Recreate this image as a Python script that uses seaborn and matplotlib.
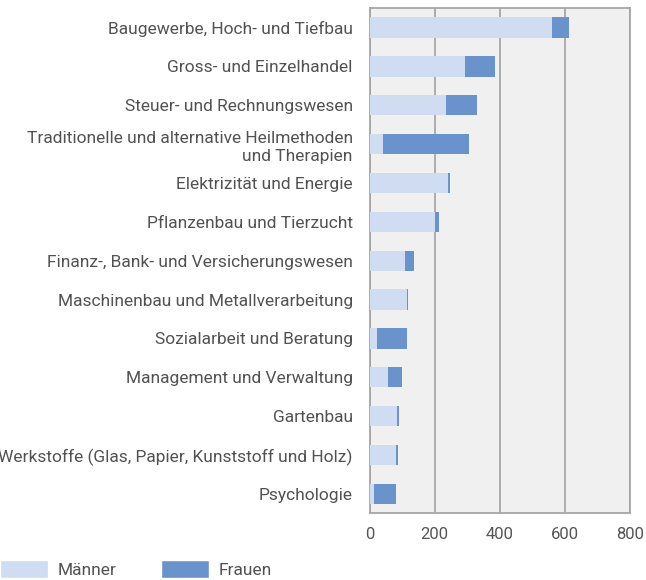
import matplotlib
matplotlib.use("Agg")
import matplotlib.pyplot as plt
import seaborn as sns
import pandas as pd
from matplotlib.patches import Patch
from matplotlib.ticker import MultipleLocator

# Data
categories = [
    "Baugewerbe, Hoch- und Tiefbau",
    "Gross- und Einzelhandel",
    "Steuer- und Rechnungswesen",
    "Traditionelle und alternative Heilmethoden\nund Therapien",
    "Elektrizität und Energie",
    "Pflanzenbau und Tierzucht",
    "Finanz-, Bank- und Versicherungswesen",
    "Maschinenbau und Metallverarbeitung",
    "Sozialarbeit und Beratung",
    "Management und Verwaltung",
    "Gartenbau",
    "Werkstoffe (Glas, Papier, Kunststoff und Holz)",
    "Psychologie",
]
maenner = [560, 292, 234, 40, 242, 200, 108, 115, 22, 56, 85, 81, 15]
frauen = [54, 95, 95, 265, 4, 12, 28, 3, 92, 43, 5, 6, 66]

col_m = "#cfdcf2"
col_f = "#6a93cc"
grid_col = "#a6a6a6"
text_col = "#525252"

df = pd.DataFrame({"Kategorie": categories, "Männer": maenner, "Frauen": frauen})
df["Total"] = df["Männer"] + df["Frauen"]

sns.set_style("white")
plt.rcParams["font.family"] = ["Roboto", "DejaVu Sans"]

fig = plt.figure(figsize=(6.46, 5.8), dpi=100)
ax = fig.add_axes([0.572, 0.115, 0.403, 0.871])
ax.set_facecolor("#f0f0f0")

# total bar (Frauen colour) underneath, Männer share drawn on top
sns.barplot(data=df, x="Total", y="Kategorie", color=col_f, width=0.52,
            saturation=1, linewidth=0, ax=ax, zorder=3)
sns.barplot(data=df, x="Männer", y="Kategorie", color=col_m, width=0.52,
            saturation=1, linewidth=0, ax=ax, zorder=3)

ax.set_xlim(0, 800)
ax.set_ylim(len(categories) - 0.5, -0.5)
ax.xaxis.set_major_locator(MultipleLocator(200))
ax.xaxis.set_minor_locator(MultipleLocator(100))
ax.grid(axis="x", which="major", color=grid_col, linewidth=1.3, zorder=0)
ax.set_axisbelow(True)
for s in ax.spines.values():
    s.set_visible(True)
    s.set_color(grid_col)
    s.set_linewidth(1.3)

ax.set_xlabel("")
ax.set_ylabel("")
ax.tick_params(axis="x", which="major", length=4, color=grid_col,
               labelsize=12, labelcolor="#555555", pad=6)
ax.tick_params(axis="x", which="minor", length=3, color=grid_col)
ax.tick_params(axis="y", length=0, labelsize=12.5, labelcolor=text_col, pad=12)
for lbl in ax.get_yticklabels():
    lbl.set_horizontalalignment("right")
    lbl.set_linespacing(1.25)

handles = [Patch(facecolor=col_m, label="Männer"),
           Patch(facecolor=col_f, label="Frauen")]
fig.legend(handles=handles, loc="lower left", bbox_to_anchor=(-0.024, -0.024),
           ncol=2, frameon=False, fontsize=12.5, handlelength=2.75,
           handleheight=1.25, handletextpad=0.55, columnspacing=2.6,
           labelcolor=text_col)

fig.savefig("out.png", dpi=100)
